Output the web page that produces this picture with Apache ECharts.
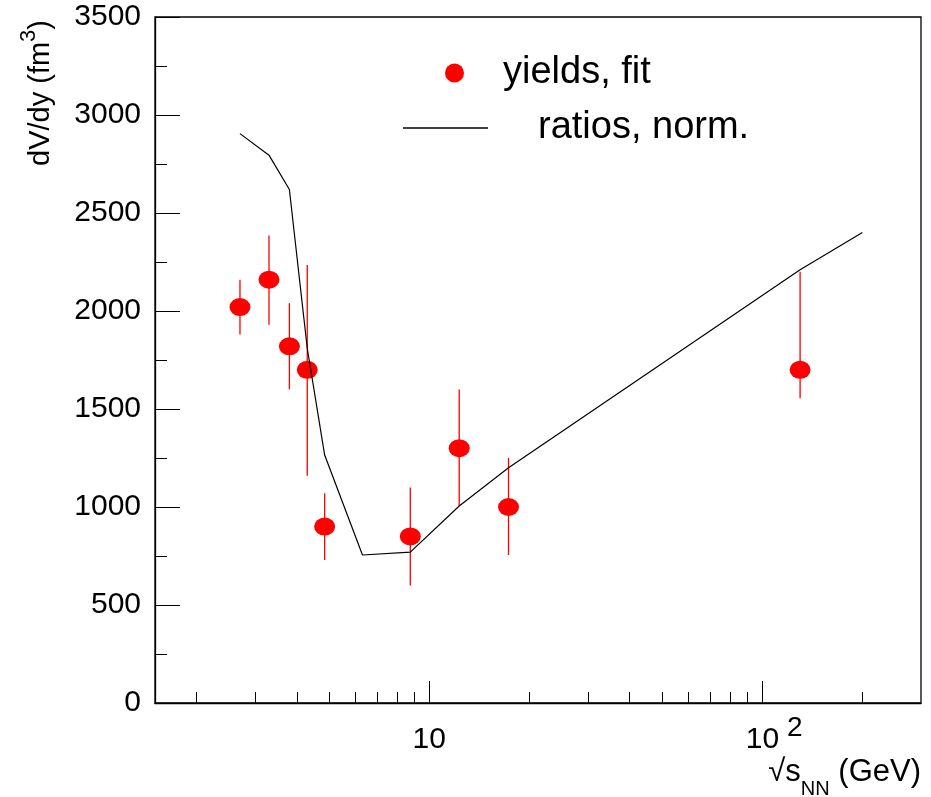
<!DOCTYPE html>
<html>
<head>
<meta charset="utf-8">
<script src="https://cdn.jsdelivr.net/npm/echarts@6/dist/echarts.min.js"></script>
<style>
html,body{margin:0;padding:0;background:#fff;}
#chart{width:931px;height:797px;}
</style>
</head>
<body>
<div id="chart"></div>
<script>
// ---- data ----
const energies = [2.7, 3.3, 3.8, 4.3, 4.85, 8.77, 12.3, 17.3, 130];
const yieldsFit = [2020, 2160, 1820, 1700, 900, 850, 1300, 1000, 1700];
const yieldsLow = [1880, 1930, 1600, 1160, 730, 600, 1005, 755, 1555];
const yieldsHigh = [2160, 2385, 2040, 2235, 1070, 1100, 1600, 1250, 2200];
const lineEnergies = [2.7, 3.3, 3.8, 4.3, 4.85, 6.3, 8.77, 12.3, 17.3, 130, 200];
const ratiosNorm = [2905, 2795, 2620, 1810, 1265, 755, 770, 1005, 1200, 2210, 2400];
const xMajorTicks = [10, 100];
const xMinorTicks = [2, 3, 4, 5, 6, 7, 8, 9, 20, 30, 40, 50, 60, 70, 80, 90, 200];
const seriesNames = ['yields, fit', 'ratios, norm.'];

const FONT = '"Liberation Sans", Arial, Helvetica, sans-serif';

const chart = echarts.init(document.getElementById('chart'), null, {renderer: 'canvas'});

const scatterData = energies.map((e, i) => [e, yieldsFit[i]]);
const errData = energies.map((e, i) => [e, yieldsLow[i], yieldsHigh[i]]);
const lineData = lineEnergies.map((e, i) => [e, ratiosNorm[i]]);

const option = {
  animation: false,
  backgroundColor: '#fff',
  grid: {left: 155, top: 17, right: 10, bottom: 94, show: true, borderColor: '#000', borderWidth: 1.3, backgroundColor: 'transparent'},
  xAxis: [
    {
      type: 'log', logBase: 10, min: 1.5, max: 300, position: 'bottom', gridIndex: 0,
      axisLine: {show: true, lineStyle: {color: '#000', width: 1.3}},
      axisTick: {show: true, inside: true, length: 22, customValues: xMajorTicks, lineStyle: {color: '#000', width: 1}},
      minorTick: {show: false},
      splitLine: {show: false},
      axisLabel: {
        show: true, customValues: xMajorTicks, margin: 16, color: '#000',
        formatter: function (v) { return v >= 100 ? '{m2|10}{sup|2}' : '{m|10}'; },
        rich: {
          m: {fontFamily: FONT, fontSize: 30, lineHeight: 30, padding: [12, 0, 0, 0], color: '#000'},
          m2: {fontFamily: FONT, fontSize: 30, lineHeight: 30, padding: [12, 0, 0, 24], color: '#000'},
          sup: {fontFamily: FONT, fontSize: 28, lineHeight: 30, padding: [0, 0, 12, 8], color: '#000'}
        }
      }
    },
    {
      type: 'log', logBase: 10, min: 1.5, max: 300, position: 'bottom', gridIndex: 0,
      axisLine: {show: false},
      axisTick: {show: true, inside: true, length: 11, customValues: xMinorTicks, lineStyle: {color: '#000', width: 1}},
      axisLabel: {show: false},
      splitLine: {show: false}
    }
  ],
  yAxis: {
    type: 'value', min: 0, max: 3500, interval: 500,
    axisLine: {show: true, lineStyle: {color: '#000', width: 1.3}},
    axisTick: {show: true, inside: true, length: 25, lineStyle: {color: '#000', width: 1}},
    minorTick: {show: true, splitNumber: 2, length: 12, lineStyle: {color: '#000', width: 1}},
    splitLine: {show: false},
    minorSplitLine: {show: false},
    axisLabel: {fontFamily: FONT, fontSize: 30, color: '#000', margin: 14, formatter: function (v) { return String(v); }}
  },
  legend: [
    {
      data: [{name: seriesNames[0], icon: 'circle'}],
      left: 445, top: 54, padding: 0, orient: 'vertical',
      itemWidth: 21, itemHeight: 19, symbolKeepAspect: false,
      selectedMode: false,
      itemStyle: {opacity: 1},
      textStyle: {fontFamily: FONT, fontSize: 38, lineHeight: 36, color: '#000', padding: [0, 0, 0, 33]}
    },
    {
      data: [{name: seriesNames[1], icon: 'rect'}],
      left: 403, top: 109, padding: 0, orient: 'vertical',
      itemWidth: 85, itemHeight: 1.4, symbolKeepAspect: false,
      selectedMode: false,
      textStyle: {fontFamily: FONT, fontSize: 38, lineHeight: 36, color: '#000', padding: [0, 0, 0, 45]}
    }
  ],
  series: [
    {
      type: 'custom', name: 'errors', xAxisIndex: 0, yAxisIndex: 0,
      data: errData,
      encode: {x: 0, y: [1, 2]},
      renderItem: function (params, api) {
        const p1 = api.coord([api.value(0), api.value(1)]);
        const p2 = api.coord([api.value(0), api.value(2)]);
        return {type: 'line', shape: {x1: p1[0], y1: p1[1], x2: p2[0], y2: p2[1]}, style: {stroke: '#ff0000', lineWidth: 1.3}};
      },
      z: 2
    },
    {
      type: 'scatter', name: seriesNames[0], xAxisIndex: 0, yAxisIndex: 0,
      data: scatterData, symbol: 'circle', symbolSize: [21, 18],
      itemStyle: {color: '#ff0000', opacity: 1}, z: 3
    },
    {
      type: 'line', name: seriesNames[1], xAxisIndex: 0, yAxisIndex: 0,
      data: lineData, symbol: 'none', showSymbol: false,
      lineStyle: {color: '#000', width: 1.2}, itemStyle: {color: '#000'}, z: 4
    }
  ],
  graphic: [
    {
      type: 'text', x: 36, y: 20, rotation: Math.PI / 2,
      style: {
        text: '{a|dV/dy (fm}{s|3}{a|)}',
        align: 'right', verticalAlign: 'middle',
        rich: {
          a: {fontFamily: FONT, fontSize: 29, lineHeight: 29, padding: [10, 0, 0, 0], fill: '#000'},
          s: {fontFamily: FONT, fontSize: 22, lineHeight: 22, padding: [1, 0, 16, 0], fill: '#000'}
        }
      }
    },
    {
      type: 'text', x: 921, y: 765,
      style: {
        text: '{m|√s}{sub|NN}{m| (GeV)}',
        align: 'right', verticalAlign: 'top',
        rich: {
          m: {fontFamily: FONT, fontSize: 31, lineHeight: 31, padding: [0, 0, 16, 0], fill: '#000'},
          sub: {fontFamily: FONT, fontSize: 20, lineHeight: 20, padding: [22, 0, 5, 0], fill: '#000'}
        }
      }
    }
  ]
};
chart.setOption(option);
</script>
</body>
</html>
